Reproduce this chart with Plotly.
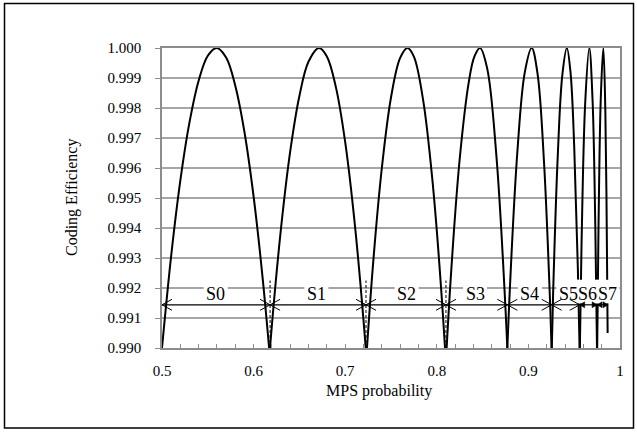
import plotly.graph_objects as go

# ---- Data: coding efficiency arches per state ----
s0_p = [0.500, 0.510, 0.520, 0.530, 0.540, 0.550, 0.5597, 0.570, 0.580, 0.590, 0.600, 0.610, 0.620]
s0_eff = [0.99000, 0.99307, 0.99558, 0.99752, 0.99891, 0.99974, 1.00000, 0.99968, 0.99874, 0.99720, 0.99505, 0.99229, 0.98893]

s1_p = [0.610, 0.620, 0.630, 0.640, 0.650, 0.660, 0.6714, 0.680, 0.690, 0.700, 0.710, 0.720, 0.730]
s1_eff = [0.98683, 0.99077, 0.99401, 0.99656, 0.99840, 0.99955, 1.00000, 0.99972, 0.99867, 0.99686, 0.99427, 0.99092, 0.98680]

s2_p = [0.720, 0.730, 0.740, 0.750, 0.760, 0.768, 0.775, 0.785, 0.795, 0.805, 0.815]
s2_eff = [0.98826, 0.99264, 0.99600, 0.99835, 0.99967, 1.00000, 0.99971, 0.99828, 0.99566, 0.99186, 0.98686]

s3_p = [0.805, 0.815, 0.825, 0.835, 0.841, 0.8472, 0.855, 0.865, 0.875, 0.885]
s3_eff = [0.98663, 0.99222, 0.99630, 0.99888, 0.99971, 1.00000, 0.99932, 0.99643, 0.99130, 0.98391]

s4_p = [0.872, 0.880, 0.888, 0.896, 0.9036, 0.910, 0.917, 0.924, 0.930]
s4_eff = [0.98589, 0.99213, 0.99656, 0.99918, 1.00000, 0.99914, 0.99622, 0.99124, 0.98533]

s5_p = [0.922, 0.927, 0.932, 0.937, 0.942, 0.946, 0.950, 0.954, 0.958]
s5_eff = [0.98548, 0.99183, 0.99637, 0.99909, 1.00000, 0.99918, 0.99673, 0.99265, 0.98694]

s6_p = [0.954, 0.958, 0.962, 0.9665, 0.970, 0.973, 0.976]
s6_eff = [0.98583, 0.99345, 0.99816, 1.00000, 0.99830, 0.99415, 0.98751]

s7_p = [0.974, 0.9765, 0.979, 0.9818, 0.984, 0.986, 0.9865]
s7_eff = [0.98684, 0.99393, 0.99830, 1.00000, 0.99790, 0.99234, 0.99050]

# state interval boundaries (MPS probability) and labels
boundaries = [0.5, 0.618, 0.7227, 0.810, 0.877, 0.9254, 0.956, 0.975, 0.987]
state_labels = ["S0", "S1", "S2", "S3", "S4", "S5", "S6", "S7"]
label_p = [0.5586, 0.6685, 0.7671, 0.8417, 0.9017, 0.9436, 0.9643, 0.9862]
open_head_states = [0, 1, 2, 3, 4, 5]     # states drawn with open arrowheads
arrow_eff = 0.99144
dashed_p = [0.618, 0.7227, 0.810]
dashed_top = 0.99225

x_ticks = [0.5, 0.6, 0.7, 0.8, 0.9, 1.0]
x_ticktext = ["0.5", "0.6", "0.7", "0.8", "0.9", "1"]
y_ticks = [0.990, 0.991, 0.992, 0.993, 0.994, 0.995, 0.996, 0.997, 0.998, 0.999, 1.000]

# ---- geometry helpers (pixel -> data units) ----
W, H = 637, 432
ML, MR, MT, MB = 162, 17, 48, 84
XR = (0.5, 1.0)
YR = (0.990, 1.000)
PW, PH = W - ML - MR, H - MT - MB
PX_X = (XR[1] - XR[0]) / PW
PX_Y = (YR[1] - YR[0]) / PH

FONT = "Liberation Serif"

fig = go.Figure()
arches = [(s0_p, s0_eff), (s1_p, s1_eff), (s2_p, s2_eff), (s3_p, s3_eff),
          (s4_p, s4_eff), (s5_p, s5_eff), (s6_p, s6_eff), (s7_p, s7_eff)]
for (px, py), name in zip(arches, state_labels):
    fig.add_trace(go.Scatter(x=px, y=py, mode="lines", name=name,
                             line=dict(color="black", width=2, shape="spline", smoothing=1.0),
                             hoverinfo="skip", showlegend=False))

shapes = []
# outer chart border
shapes.append(dict(type="rect", xref="paper", yref="paper",
                   x0=(4.5 - ML) / PW, x1=(633.5 - ML) / PW,
                   y0=(H - MB - 428) / PH, y1=(H - MB - 3.5) / PH,
                   line=dict(color="black", width=1.5), layer="above"))
# white boxes behind labels
for lp in label_p:
    shapes.append(dict(type="rect", xref="x", yref="y", layer="above",
                       x0=lp - 12 * PX_X, x1=lp + 12 * PX_X,
                       y0=arrow_eff + 1.5 * PX_Y, y1=arrow_eff + 25 * PX_Y,
                       fillcolor="white", line=dict(width=0)))
# dashed boundary lines
for dp in dashed_p:
    shapes.append(dict(type="line", xref="x", yref="y", layer="above",
                       x0=dp, x1=dp, y0=YR[0], y1=dashed_top,
                       line=dict(color="black", width=1, dash="3px,2px")))
# arrows
for i in range(len(state_labels)):
    a, b = boundaries[i], boundaries[i + 1]
    shapes.append(dict(type="line", xref="x", yref="y", layer="above",
                       x0=a, x1=b, y0=arrow_eff, y1=arrow_eff,
                       line=dict(color="black", width=1.2)))
    if i in open_head_states:
        dx, dy = 10 * PX_X, 5.5 * PX_Y
        for tip, sgn in ((a, 1), (b, -1)):
            path = (f"M {tip + sgn * dx},{arrow_eff + dy} L {tip},{arrow_eff} "
                    f"L {tip + sgn * dx},{arrow_eff - dy}")
            shapes.append(dict(type="path", xref="x", yref="y", layer="above", path=path,
                               line=dict(color="black", width=1)))
    else:
        dx, dy = 5 * PX_X, 3 * PX_Y
        for tip, sgn in ((a, 1), (b, -1)):
            path = (f"M {tip},{arrow_eff} L {tip + sgn * dx},{arrow_eff + dy} "
                    f"L {tip + sgn * dx},{arrow_eff - dy} Z")
            shapes.append(dict(type="path", xref="x", yref="y", layer="above", path=path,
                               fillcolor="black", line=dict(color="black", width=0.5)))

annotations = []
for lab, lp in zip(state_labels, label_p):
    annotations.append(dict(x=lp, y=arrow_eff, xref="x", yref="y", text=lab,
                            showarrow=False, yanchor="bottom", yshift=0, borderpad=0,
                            font=dict(family=FONT, size=18, color="black")))
annotations.append(dict(x=(378.5 - ML) / PW, y=(H - MB - 391) / PH,
                        xref="paper", yref="paper", text="MPS probability", showarrow=False,
                        yanchor="middle", xanchor="center",
                        font=dict(family=FONT, size=16, color="black")))
annotations.append(dict(x=(72 - ML) / PW, y=0.5, xref="paper", yref="paper",
                        text="Coding Efficiency", showarrow=False, textangle=-90,
                        xanchor="center", yanchor="middle",
                        font=dict(family=FONT, size=16, color="black")))

fig.update_layout(
    width=W, height=H,
    margin=dict(l=ML, r=MR, t=MT, b=MB),
    paper_bgcolor="white", plot_bgcolor="white",
    shapes=shapes, annotations=annotations,
    showlegend=False,
    xaxis=dict(range=list(XR), tickvals=x_ticks, ticktext=x_ticktext,
               showgrid=False, zeroline=False, showline=True, linecolor="#8c8c8c", linewidth=1.5,
               mirror=True, ticks="inside", ticklen=4, tickcolor="#8c8c8c",
               minor=dict(dtick=0.02, ticks="inside", ticklen=4, tickcolor="#8c8c8c", showgrid=False),
               ticklabelstandoff=8,
               tickfont=dict(family=FONT, size=15, color="black")),
    yaxis=dict(range=list(YR), tickvals=y_ticks, ticktext=[f"{v:.3f}" for v in y_ticks],
               showgrid=True, gridcolor="#a6a6a6", gridwidth=1.5, zeroline=False,
               showline=True, linecolor="#8c8c8c", linewidth=1.5, mirror=True,
               ticks="outside", ticklen=5, tickcolor="#8c8c8c",
               ticklabelstandoff=11,
               tickfont=dict(family=FONT, size=15, color="black")),
)

fig.write_html("out.html", config={"displayModeBar": False},
               post_script="document.body.style.margin='0';document.body.style.overflow='hidden';")
